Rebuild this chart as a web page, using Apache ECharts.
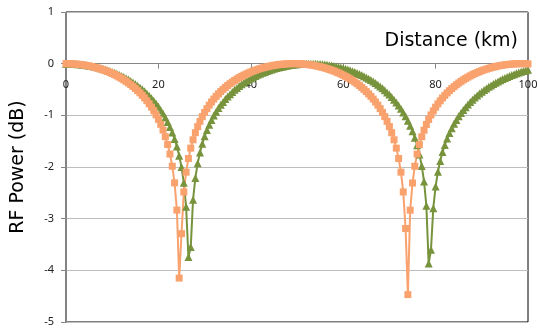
<!DOCTYPE html>
<html>
<head>
<meta charset="utf-8">
<script src="https://cdn.jsdelivr.net/npm/echarts@6/dist/echarts.min.js"></script>
<style>html,body{margin:0;padding:0;background:#fff}#c{width:537px;height:329px}</style>
</head>
<body>
<div id="c"></div>
<script>
// Distance (km)
const distance = [
0,0.5,1,1.5,2,2.5,3,3.5,4,4.5,5,5.5,6,6.5,7,7.5,8,8.5,9,9.5,
10,10.5,11,11.5,12,12.5,13,13.5,14,14.5,15,15.5,16,16.5,17,17.5,18,18.5,19,19.5,
20,20.5,21,21.5,22,22.5,23,23.5,24,24.5,25,25.5,26,26.5,27,27.5,28,28.5,29,29.5,
30,30.5,31,31.5,32,32.5,33,33.5,34,34.5,35,35.5,36,36.5,37,37.5,38,38.5,39,39.5,
40,40.5,41,41.5,42,42.5,43,43.5,44,44.5,45,45.5,46,46.5,47,47.5,48,48.5,49,49.5,
50,50.5,51,51.5,52,52.5,53,53.5,54,54.5,55,55.5,56,56.5,57,57.5,58,58.5,59,59.5,
60,60.5,61,61.5,62,62.5,63,63.5,64,64.5,65,65.5,66,66.5,67,67.5,68,68.5,69,69.5,
70,70.5,71,71.5,72,72.5,73,73.5,74,74.5,75,75.5,76,76.5,77,77.5,78,78.5,79,79.5,
80,80.5,81,81.5,82,82.5,83,83.5,84,84.5,85,85.5,86,86.5,87,87.5,88,88.5,89,89.5,
90,90.5,91,91.5,92,92.5,93,93.5,94,94.5,95,95.5,96,96.5,97,97.5,98,98.5,99,99.5,
100];

// RF power (dB), green triangles
const greenPower = [
0,-0.0004,-0.0015,-0.0034,-0.0061,-0.0095,-0.0136,-0.0186,-0.0243,-0.0308,
-0.0381,-0.0463,-0.0553,-0.0652,-0.0758,-0.0875,-0.1,-0.1135,-0.1279,-0.1434,
-0.16,-0.1775,-0.1962,-0.2161,-0.2373,-0.2598,-0.2835,-0.3088,-0.3356,-0.364,
-0.3942,-0.4262,-0.4602,-0.4965,-0.535,-0.576,-0.6202,-0.6673,-0.7177,-0.7724,
-0.8314,-0.8954,-0.9656,-1.0427,-1.1279,-1.2234,-1.3319,-1.4562,-1.6022,-1.7802,
-2.0014,-2.303,-2.771,-3.74,
-3.55,-2.632,-2.211,-1.929,-1.717,-1.549,-1.407,-1.286,-1.181,-1.088,
-1.004,-0.929,-0.86,-0.797,-0.74,-0.686,-0.636,-0.59,-0.547,-0.507,
-0.469,-0.434,-0.4,-0.369,-0.339,-0.312,-0.286,-0.261,-0.238,-0.216,
-0.196,-0.177,-0.159,-0.142,-0.126,-0.111,-0.098,-0.085,-0.073,-0.063,
-0.053,-0.044,-0.036,-0.028,-0.022,-0.016,-0.012,-0.008,-0.005,-0.002,
-0.001,0,0,-0.001,-0.003,-0.005,-0.008,-0.013,-0.017,-0.023,
-0.03,-0.037,-0.045,-0.054,-0.065,-0.076,-0.087,-0.1,-0.114,-0.129,
-0.145,-0.162,-0.18,-0.2,-0.221,-0.242,-0.266,-0.291,-0.317,-0.345,
-0.375,-0.407,-0.44,-0.476,-0.515,-0.556,-0.599,-0.646,-0.697,-0.751,
-0.81,-0.874,-0.944,-1.02,-1.106,-1.201,-1.309,-1.433,-1.579,-1.756,
-1.979,-2.281,-2.748,-3.87,-3.6,-2.798,-2.376,-2.094,-1.882,-1.712,
-1.572,-1.45,-1.344,-1.25,-1.165,-1.089,-1.019,-0.956,-0.896,-0.842,
-0.791,-0.743,-0.698,-0.656,-0.617,-0.579,-0.544,-0.511,-0.479,-0.449,
-0.421,-0.394,-0.368,-0.344,-0.32,-0.298,-0.277,-0.257,-0.238,-0.22,
-0.203,-0.187,-0.171,-0.157,-0.143,-0.13,-0.117];

// RF power (dB), orange squares
const orangePower = [
0,-0.0004,-0.0018,-0.004,-0.0071,-0.0112,-0.016,-0.0219,-0.0286,-0.0364,
-0.0451,-0.0547,-0.0654,-0.0771,-0.0898,-0.1037,-0.1187,-0.1348,-0.1521,-0.1708,
-0.1907,-0.2119,-0.2346,-0.2589,-0.2847,-0.3123,-0.3417,-0.373,-0.4065,-0.4421,
-0.4802,-0.5211,-0.5648,-0.6119,-0.6625,-0.7171,-0.7765,-0.8412,-0.9121,-0.9902,
-1.0769,-1.174,-1.2851,-1.4143,-1.565,-1.7494,-1.9846,-2.307,-2.834,-4.15,
-3.29,-2.483,-2.1,-1.836,-1.635,-1.473,-1.336,-1.219,-1.116,-1.025,
-0.944,-0.871,-0.803,-0.742,-0.685,-0.633,-0.585,-0.54,-0.498,-0.459,
-0.422,-0.388,-0.356,-0.325,-0.297,-0.27,-0.245,-0.222,-0.2,-0.18,
-0.161,-0.143,-0.126,-0.111,-0.096,-0.083,-0.071,-0.06,-0.05,-0.04,
-0.032,-0.025,-0.019,-0.013,-0.009,-0.0055,-0.003,-0.001,0,
0,-0.001,-0.003,-0.0055,-0.009,-0.013,-0.019,-0.025,-0.032,
-0.04,-0.05,-0.06,-0.071,-0.083,-0.096,-0.111,-0.126,-0.143,-0.161,
-0.18,-0.2,-0.222,-0.245,-0.27,-0.297,-0.325,-0.356,-0.388,-0.422,
-0.459,-0.498,-0.54,-0.585,-0.633,-0.685,-0.742,-0.803,-0.871,-0.944,
-1.025,-1.116,-1.219,-1.336,-1.473,-1.635,-1.836,-2.1,-2.483,-3.19,
-4.47,-2.836,-2.31,-1.985,-1.75,-1.567,-1.415,-1.287,-1.176,-1.079,
-0.992,-0.914,-0.843,-0.778,-0.719,-0.664,-0.614,-0.566,-0.523,-0.482,
-0.444,-0.408,-0.375,-0.343,-0.314,-0.286,-0.26,-0.236,-0.213,-0.192,
-0.172,-0.153,-0.136,-0.12,-0.105,-0.091,-0.078,-0.066,-0.056,-0.046,
-0.037,-0.029,-0.023,-0.017,-0.012,-0.008,-0.004,-0.002,-0.001,0,
0,-0.002,-0.004];

const GREEN = '#77933C';
const ORANGE = '#F9A26E';
const FONT = 'Noto Sans';
const TITLE_FONT = 'DejaVu Sans';

// plot area in pixels
const PL = 66, PR = 9, PT = 12, PB = 7;
const H = 329 - PT - PB;           // plot height
const Y_MIN = -5, Y_MAX = 1;
const zeroH = H * (Y_MAX - 0) / (Y_MAX - Y_MIN); // height from top to y=0

const chart = echarts.init(document.getElementById('c'), null, {renderer: 'canvas'});
chart.setOption({
  animation: false,
  backgroundColor: '#fff',
  textStyle: {fontFamily: FONT},
  grid: [
    {left: PL, right: PR, top: PT, bottom: PB, show: true, borderColor: '#000', borderWidth: 1,
     containLabel: false, outerBoundsMode: 'none'},
    {left: PL, right: PR, top: PT, height: zeroH, show: false,
     containLabel: false, outerBoundsMode: 'none'}
  ],
  xAxis: [
    {
      gridIndex: 0, type: 'value', min: 0, max: 100, interval: 20,
      axisLine: {show: false}, axisTick: {show: false}, axisLabel: {show: false},
      splitLine: {show: false}
    },
    {
      gridIndex: 1, type: 'value', min: 0, max: 100, interval: 20, position: 'bottom',
      axisLine: {show: true, onZero: false, lineStyle: {color: '#868686', width: 1}},
      axisTick: {show: true, length: 5, lineStyle: {color: '#868686'}},
      axisLabel: {margin: 16, fontSize: 11, color: '#222', fontFamily: FONT},
      splitLine: {show: false},
      name: 'Distance (km)', nameLocation: 'end', nameGap: -10,
      nameTextStyle: {fontSize: 19, color: '#000', align: 'right', verticalAlign: 'bottom',
                      padding: [0, 0, 13, 0], fontFamily: TITLE_FONT}
    }
  ],
  yAxis: [
    {
      gridIndex: 0, type: 'value', min: Y_MIN, max: Y_MAX, interval: 1,
      axisLine: {show: true, onZero: false, lineStyle: {color: '#868686', width: 1}},
      axisTick: {show: true, length: 5, lineStyle: {color: '#868686'}},
      axisLabel: {margin: 12, fontSize: 11, color: '#222', fontFamily: FONT},
      splitLine: {show: true, lineStyle: {color: '#bdbdbd', width: 1}},
      name: 'RF Power (dB)', nameLocation: 'middle', nameRotate: 90, nameGap: 38,
      nameTextStyle: {fontSize: 19, color: '#000', fontFamily: TITLE_FONT}
    },
    {
      gridIndex: 1, type: 'value', min: 0, max: 1, show: false
    }
  ],
  series: [
    {
      type: 'line', name: 'green', xAxisIndex: 0, yAxisIndex: 0,
      data: distance.map((d, i) => [d, greenPower[i]]),
      symbol: 'triangle', symbolSize: 8, showSymbol: true,
      lineStyle: {color: GREEN, width: 2},
      itemStyle: {color: GREEN}
    },
    {
      type: 'line', name: 'orange', xAxisIndex: 0, yAxisIndex: 0,
      data: distance.map((d, i) => [d, orangePower[i]]),
      symbol: 'rect', symbolSize: 7, showSymbol: true,
      lineStyle: {color: ORANGE, width: 2},
      itemStyle: {color: ORANGE}
    }
  ]
});
</script>
</body>
</html>
